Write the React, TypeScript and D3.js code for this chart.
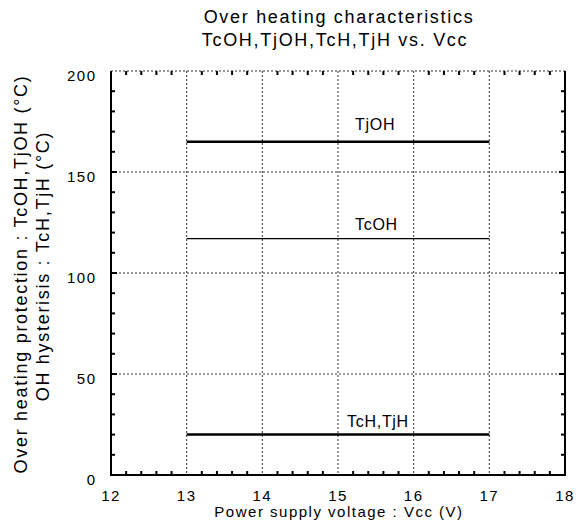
import React from "react";
import * as d3 from "d3";

const xTicks = [12, 13, 14, 15, 16, 17, 18];
const yTicks = [0, 50, 100, 150, 200];
const seriesNames = ["TjOH", "TcOH", "TcH,TjH"];
const seriesValues = [165, 117, 20];
const seriesStart = [13, 13, 13];
const seriesEnd = [17, 17, 17];
const seriesWidths = [2.5, 1.2, 2.5];
const labelX = [15.225, 15.225, 15.12];
const labelGap = [12, 9, 8];
const titleLines = ["Over heating characteristics", "TcOH,TjOH,TcH,TjH vs. Vcc"];
const xTitle = "Power supply voltage : Vcc (V)";
const yTitles = ["Over heating protection : TcOH,TjOH (°C)", "OH hysterisis : TcH,TjH (°C)"];

const W = 579;
const H = 531;
const L = 111, R = 565, T = 71, B = 475;

export default function App() {
  const x = d3.scaleLinear().domain([12, 18]).range([L, R]);
  const y = d3.scaleLinear().domain([0, 200]).range([B, T]);
  const xMinor = d3.range(12, 18.001, 0.2).filter((v) => Math.abs(v - Math.round(v)) > 0.01);
  const yMinor = d3.range(0, 200.001, 10).filter((v) => v % 50 !== 0);
  const font = "'Liberation Sans', Arial, sans-serif";
  const grid = "#333";
  return (
    <svg width={W} height={H} style={{ position: "absolute", left: 0, top: 0 }} fontFamily={font}>
      <rect width={W} height={H} fill="#fff" />
      {titleLines.map((t, i) => (
        <text key={t} x={339 - i * 4} y={23 + i * 23} textAnchor="middle" fontSize={18} letterSpacing={1.7}>{t}</text>
      ))}
      {/* grid */}
      {xTicks.slice(1, -1).map((v) => (
        <line key={"gx" + v} x1={x(v)} x2={x(v)} y1={T} y2={B} stroke={grid} strokeWidth={1} strokeDasharray="2,2" />
      ))}
      {yTicks.slice(1, -1).map((v) => (
        <line key={"gy" + v} x1={L} x2={R} y1={y(v)} y2={y(v)} stroke={grid} strokeWidth={1} strokeDasharray="2,2" />
      ))}
      <line x1={L} x2={R} y1={T} y2={T} stroke={grid} strokeWidth={1} strokeDasharray="2,2" />
      {/* minor ticks */}
      {xMinor.map((v) => (
        <g key={"mx" + v}>
          <line x1={x(v)} x2={x(v)} y1={B} y2={B - 4} stroke="#000" strokeWidth={2} />
          <line x1={x(v)} x2={x(v)} y1={T} y2={T + 4} stroke="#000" strokeWidth={2} />
        </g>
      ))}
      {yMinor.map((v) => (
        <g key={"my" + v}>
          <line x1={L} x2={L + 4} y1={y(v)} y2={y(v)} stroke="#000" strokeWidth={2} />
          <line x1={R} x2={R - 4} y1={y(v)} y2={y(v)} stroke="#000" strokeWidth={2} />
        </g>
      ))}
      {yTicks.slice(1, -1).map((v) => (
        <g key={"My" + v}>
          <line x1={L} x2={L + 6} y1={y(v)} y2={y(v)} stroke="#000" strokeWidth={2} />
          <line x1={R} x2={R - 6} y1={y(v)} y2={y(v)} stroke="#000" strokeWidth={2} />
        </g>
      ))}
      {/* frame */}
      <path d={`M${L},${T}V${B}H${R}V${T}`} fill="none" stroke="#000" strokeWidth={2} />
      {/* series */}
      {seriesNames.map((n, i) => (
        <g key={n}>
          <line x1={x(seriesStart[i])} x2={x(seriesEnd[i])} y1={y(seriesValues[i])} y2={y(seriesValues[i])} stroke="#000" strokeWidth={seriesWidths[i]} />
          <text x={x(labelX[i])} y={y(seriesValues[i]) - labelGap[i]} fontSize={16} letterSpacing={0.7}>{n}</text>
        </g>
      ))}
      {/* tick labels */}
      {xTicks.map((v) => (
        <text key={"tx" + v} x={x(v)} y={500.5} textAnchor="middle" fontSize={15} letterSpacing={1.5}>{v}</text>
      ))}
      {yTicks.map((v) => (
        <text key={"ty" + v} x={96.5} y={y(v) + 10} textAnchor="end" fontSize={15} letterSpacing={1.5}>{v}</text>
      ))}
      <text x={339} y={517} textAnchor="middle" fontSize={15} letterSpacing={1.5}>{xTitle}</text>
      {yTitles.map((t, i) => (
        <text key={t} transform={`translate(${27 + i * 22},${274 - i * 8}) rotate(-90)`} textAnchor="middle" fontSize={18} letterSpacing={1.7}>{t}</text>
      ))}
    </svg>
  );
}
